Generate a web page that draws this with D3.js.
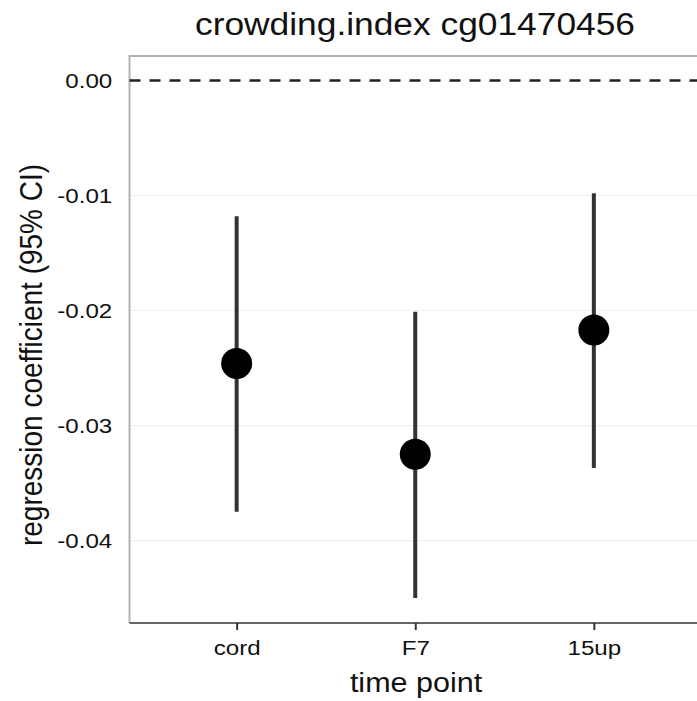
<!DOCTYPE html>
<html>
<head>
<meta charset="utf-8">
<script src="https://cdn.jsdelivr.net/npm/d3@7"></script>
<style>
  body { margin: 0; background: #fff; }
  text { font-family: "Liberation Sans", Arial, sans-serif; }
</style>
</head>
<body>
<svg id="chart" width="697" height="701"></svg>
<script>
// values
var timePoints = ['cord', 'F7', '15up'];
var estimate = [-0.0246, -0.0325, -0.0217];
var lower = [-0.0375, -0.0450, -0.0337];
var upper = [-0.0118, -0.0201, -0.0098];
var yTicks = [0, -0.01, -0.02, -0.03, -0.04];
var yTickLabels = ['0.00', '-0.01', '-0.02', '-0.03', '-0.04'];

(function(){
	'use strict';
	var svg = d3.select('#chart');
	var pLeft = 129.5, pTop = 56, pRight = 701, pBottom = 623;
	var stretch = 1.15;

	var x = d3.scalePoint().domain(timePoints).range([pLeft, pRight]).padding(0.6);
	var y = d3.scaleLinear().domain([0.00213, -0.04717]).range([pTop, pBottom]);

	// grid
	svg.append('g').selectAll('line')
		.data(yTicks.slice(1))
		.enter().append('line')
		.attr('x1', pLeft).attr('x2', pRight)
		.attr('y1', d => y(d)).attr('y2', d => y(d))
		.style('stroke', '#f2eeee')
		.style('stroke-width', 1.2);

	// panel border (left + top)
	svg.append('path')
		.attr('d', 'M' + pLeft + ',' + pBottom + 'V' + pTop + 'H' + pRight)
		.style('fill', 'none')
		.style('stroke', '#b3b3b3')
		.style('stroke-width', 2);

	// zero reference
	svg.append('line')
		.attr('x1', pLeft).attr('x2', pRight)
		.attr('y1', y(0)).attr('y2', y(0))
		.style('stroke', '#222')
		.style('stroke-width', 2.6)
		.style('stroke-dasharray', '11,9');

	// x axis
	var xAxis = svg.append('g').attr('transform', 'translate(0,' + pBottom + ')')
		.call(d3.axisBottom(x).tickSize(7).tickPadding(10));
	xAxis.select('.domain').style('stroke', '#666').style('stroke-width', 2).attr('d', 'M' + pLeft + ',0H' + pRight);
	xAxis.selectAll('.tick line').style('stroke', '#333').style('stroke-width', 2);
	xAxis.selectAll('.tick text')
		.style('font-size', '21px').style('fill', '#111')
		.attr('transform', 'scale(' + stretch + ',1)');

	// y axis labels
	var yAxis = svg.append('g').attr('transform', 'translate(' + pLeft + ',0)')
		.call(d3.axisLeft(y).tickValues(yTicks).tickFormat((d, i) => yTickLabels[i]).tickSize(0).tickPadding(15));
	yAxis.select('.domain').remove();
	yAxis.selectAll('.tick text')
		.style('font-size', '21px').style('fill', '#111')
		.attr('transform', 'scale(' + stretch + ',1)');

	// intervals and points
	svg.append('g').selectAll('g')
		.data(timePoints)
		.enter().append('g')
		.each(function(d, i) {
			d3.select(this).append('line')
				.attr('x1', x(d)).attr('x2', x(d))
				.attr('y1', y(lower[i])).attr('y2', y(upper[i]))
				.style('stroke', '#333')
				.style('stroke-width', 4);
			d3.select(this).append('circle')
				.attr('cx', x(d)).attr('cy', y(estimate[i]))
				.attr('r', 15.5)
				.style('fill', '#000');
		});

	// titles
	svg.append('text')
		.attr('transform', 'translate(415,35) scale(1.14,1)')
		.attr('text-anchor', 'middle')
		.style('font-size', '31px')
		.style('fill', '#111')
		.text('crowding.index cg01470456');

	svg.append('text')
		.attr('transform', 'translate(416,692) scale(1.13,1)')
		.attr('text-anchor', 'middle')
		.style('font-size', '27px')
		.style('fill', '#111')
		.text('time point');

	svg.append('text')
		.attr('transform', 'translate(42,355) scale(1.15,1) rotate(-90)')
		.attr('text-anchor', 'middle')
		.style('font-size', '28px')
		.style('fill', '#111')
		.text('regression coefficient (95% CI)');
})();
</script>
</body>
</html>
